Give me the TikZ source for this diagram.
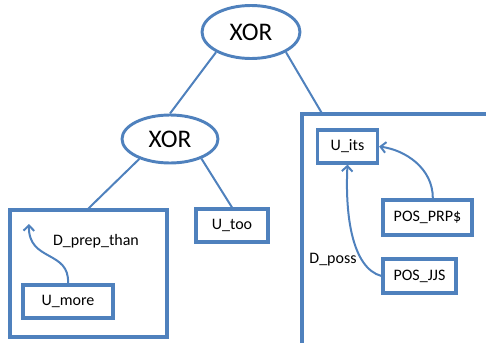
\documentclass[tikz,border=0pt]{standalone}
\usepackage{fontspec}
\setmainfont{Carlito}
\usetikzlibrary{arrows.meta}
\usetikzlibrary{shapes.geometric}
\definecolor{mblue}{RGB}{79, 129, 189}
\tikzset{xorop/.style = {draw=mblue, line width=2.2pt, ellipse, fill=white,
                         inner sep=0, font=\fontsize{19}{22}\selectfont}}
\tikzset{tok/.style = {draw=mblue, line width=2.4pt, rectangle, fill=white,
                       inner sep=0, font=\fontsize{12}{14}\selectfont}}
\tikzset{region/.style = {draw=mblue, line width=2.4pt, rectangle, inner sep=0}}
\tikzset{link/.style = {draw=mblue, line width=1.5pt}}
\tikzset{dep/.style = {draw=mblue, line width=1.5pt,
                       -{Straight Barb[length=4pt, width=8pt]}}}
\tikzset{lbl/.style = {font=\fontsize{12}{14}\selectfont}}

\begin{document}
\begin{tikzpicture}[x=0.75pt, y=-0.75pt]
    \useasboundingbox (0, 0) rectangle (486, 343);
    \clip (0, 0) rectangle (486, 343);

    % boxes round the subtrees
    \node (lbox) at (88.5, 273.5) [region, minimum width=117.75pt, minimum height=95.25pt] {};
    \node (rbox) at (397, 232) [region, minimum width=142.5pt, minimum height=177pt] {};

    \node (xtop) at (251, 32) [xorop, minimum width=73.5pt, minimum height=39.75pt] {XOR};
    \node (xsub) at (170, 139) [xorop, minimum width=72pt, minimum height=36pt] {XOR};

    \node (umore) at (68, 301.5) [tok, minimum width=67.5pt, minimum height=24.75pt] {U\_more};
    \node (utoo) at (232, 225.5) [tok, minimum width=54pt, minimum height=24.75pt] {U\_too};
    \node (uits) at (347.5, 146.5) [tok, minimum width=45pt, minimum height=24.75pt] {U\_its};
    \node (pprp) at (427.5, 217.5) [tok, minimum width=66.75pt, minimum height=26.25pt] {POS\_PRP\$};
    \node (pjjs) at (419.5, 276) [tok, minimum width=54.75pt, minimum height=25.5pt] {POS\_JJS};

    \draw [link] (xtop.210) -- (xsub.north);
    \draw [link] (xtop.330) -- ([xshift=15.75pt]rbox.north west);
    \draw [link] (xsub.213) -- (lbox.north);
    \draw [link] (xsub.328) -- (utoo.north);

    \coordinate (head) at (29, 224);
    \draw [dep] (umore.north) .. controls (70, 250) and (28, 262) .. (head);
    \node (dprep) at (96, 241) [lbl] {D\_prep\_than};

    \draw [dep] ([xshift=4pt]pprp.north) .. controls (433, 168) and (405, 150) .. (uits.east);
    \draw [dep] (pjjs.west) .. controls (352, 268) and (345, 215) .. (uits.south);
    \node (dposs) at (333, 260) [lbl] {D\_poss};
  \end{tikzpicture}
\end{document}
